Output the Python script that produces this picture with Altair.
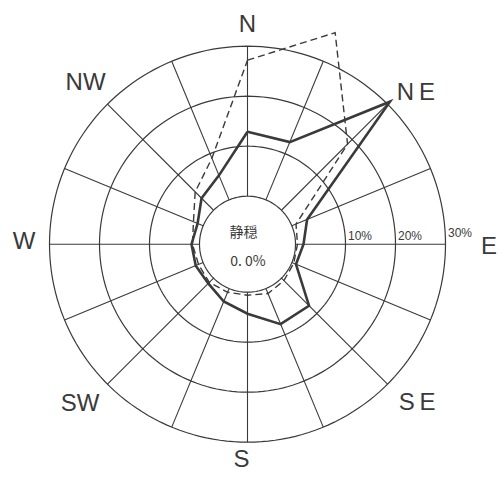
import altair as alt
import numpy as np
import pandas as pd

# 16-point wind rose: frequency of each wind direction (%)
directions = ["N", "NNE", "NE", "ENE", "E", "ESE", "SE", "SSE",
              "S", "SSW", "SW", "WSW", "W", "WNW", "NW", "NNW"]
freq_solid = [12.9, 12.5, 30.7, 3.3, 1.6, 0.9, 7.8, 7.7,
              4.3, 2.8, 1.5, 1.6, 1.6, 1.2, 3.4, 5.3]
freq_dashed = [27.2, 36.2, 18.7, 0.9, 0.4, 0.4, 0.7, 1.1,
               0.6, 0.8, 1.2, 1.0, 1.4, 2.1, 5.2, 9.0]

ring_values = [10, 20, 30]
ring_labels = ["10%", "20%", "30%"]
compass_labels = ["N", "N\u2009E", "E", "S\u2009E", "S", "SW", "W", "NW"]
calm_title = "静穏"
calm_value = "0. 0%"

# Layout: radial unit = 5 px; the calm circle occupies the first CALM_R units
CALM_R = 9.6
OUTER_R = CALM_R + 30
label_angle = [0, 47.9, 90.4, 133.0, 181.6, 226.6, 270.7, 315.0]
label_radius = [44.0, 45.4, 48.3, 46.4, 42.9, 46.1, 44.7, 45.8]
W, H = 503, 479
X_DOM = [-49.5, 51.1]
Y_DOM = [-46.96, 48.84]
INK = "#3a3a3a"

xs = alt.Scale(domain=X_DOM, nice=False, zero=False)
ys = alt.Scale(domain=Y_DOM, nice=False, zero=False)

# ---- wind frequency polygons (closed by repeating the first direction) ----
rows = []
for name, vals in (("solid", freq_solid), ("dashed", freq_dashed)):
    for i in range(len(directions) + 1):
        k = i % len(directions)
        rows.append({"series": name, "dir": directions[k], "idx": i, "value": vals[k]})
rose = pd.DataFrame(rows)

rose_base = alt.Chart(rose).transform_calculate(
    r=f"{CALM_R} + datum.value",
    x="datum.r * sin(datum.idx * PI / 8)",
    y="datum.r * cos(datum.idx * PI / 8)",
)
solid = rose_base.transform_filter("datum.series == 'solid'").mark_line(
    color=INK, strokeWidth=2.6, strokeJoin="miter"
).encode(
    x=alt.X("x:Q", scale=xs, axis=None),
    y=alt.Y("y:Q", scale=ys, axis=None),
    order="idx:Q",
)
dashed = rose_base.transform_filter("datum.series == 'dashed'").mark_line(
    color=INK, strokeWidth=1.4, strokeDash=[7, 4]
).encode(
    x=alt.X("x:Q", scale=xs, axis=None),
    y=alt.Y("y:Q", scale=ys, axis=None),
    order="idx:Q",
)

# ---- grid: calm circle plus 10/20/30 % rings ----
deg = np.arange(0, 361, 2)
circle_rows = []
for ring in [0] + ring_values:
    for d in deg:
        circle_rows.append({"ring": ring, "deg": float(d)})
circles = alt.Chart(pd.DataFrame(circle_rows)).transform_calculate(
    x=f"({CALM_R} + datum.ring) * sin(datum.deg * PI / 180)",
    y=f"({CALM_R} + datum.ring) * cos(datum.deg * PI / 180)",
).mark_line(color=INK, strokeWidth=1.2).encode(
    x=alt.X("x:Q", scale=xs, axis=None),
    y=alt.Y("y:Q", scale=ys, axis=None),
    detail="ring:N",
    order="deg:Q",
)

# ---- grid: 16 spokes from the calm circle to the outer ring ----
spokes = alt.Chart(pd.DataFrame({"idx": list(range(16))})).transform_calculate(
    x=f"{CALM_R} * sin(datum.idx * PI / 8)",
    y=f"{CALM_R} * cos(datum.idx * PI / 8)",
    x2=f"{OUTER_R} * sin(datum.idx * PI / 8)",
    y2=f"{OUTER_R} * cos(datum.idx * PI / 8)",
).mark_rule(color=INK, strokeWidth=1.1).encode(
    x=alt.X("x:Q", scale=xs, axis=None),
    y=alt.Y("y:Q", scale=ys, axis=None),
    x2="x2:Q",
    y2="y2:Q",
)

# ---- compass labels ----
compass = pd.DataFrame({
    "label": compass_labels,
    "ang": label_angle,
    "rad": label_radius,
})
compass_text = alt.Chart(compass).transform_calculate(
    x="datum.rad * sin(datum.ang * PI / 180)",
    y="datum.rad * cos(datum.ang * PI / 180)",
).mark_text(font="Liberation Sans", fontSize=24, color=INK,
            align="center", baseline="middle", dy=1).encode(
    x=alt.X("x:Q", scale=xs, axis=None),
    y=alt.Y("y:Q", scale=ys, axis=None),
    text="label:N",
)

# ---- ring value labels along the east spoke ----
ticks = pd.DataFrame({"value": ring_values, "label": ring_labels})
tick_text = alt.Chart(ticks).transform_calculate(
    x=f"{CALM_R} + datum.value + 0.5",
    y="datum.value == 30 ? 0.8 : 0.3",
).mark_text(font="Liberation Sans", fontSize=12, color=INK,
            align="left", baseline="bottom").encode(
    x=alt.X("x:Q", scale=xs, axis=None),
    y=alt.Y("y:Q", scale=ys, axis=None),
    text="label:N",
)

# ---- calm percentage in the centre ----
calm = pd.DataFrame({"text": [calm_title, calm_value], "y": [2.3, -3.5], "x": [-0.8, 0.1]})
calm_text = alt.Chart(calm).mark_text(
    font="Noto Sans CJK JP", fontSize=14, color=INK, align="center", baseline="middle"
).encode(
    x=alt.X("x:Q", scale=xs, axis=None),
    y=alt.Y("y:Q", scale=ys, axis=None),
    text="text:N",
)

chart = alt.layer(
    circles, spokes, dashed, solid, compass_text, tick_text, calm_text
).properties(
    width=W, height=H, padding=0, autosize=alt.AutoSizeParams(type="none"),
    background="white",
).configure_view(stroke=None)

chart.save("out.html", embed_options={"renderer": "svg", "actions": False})
